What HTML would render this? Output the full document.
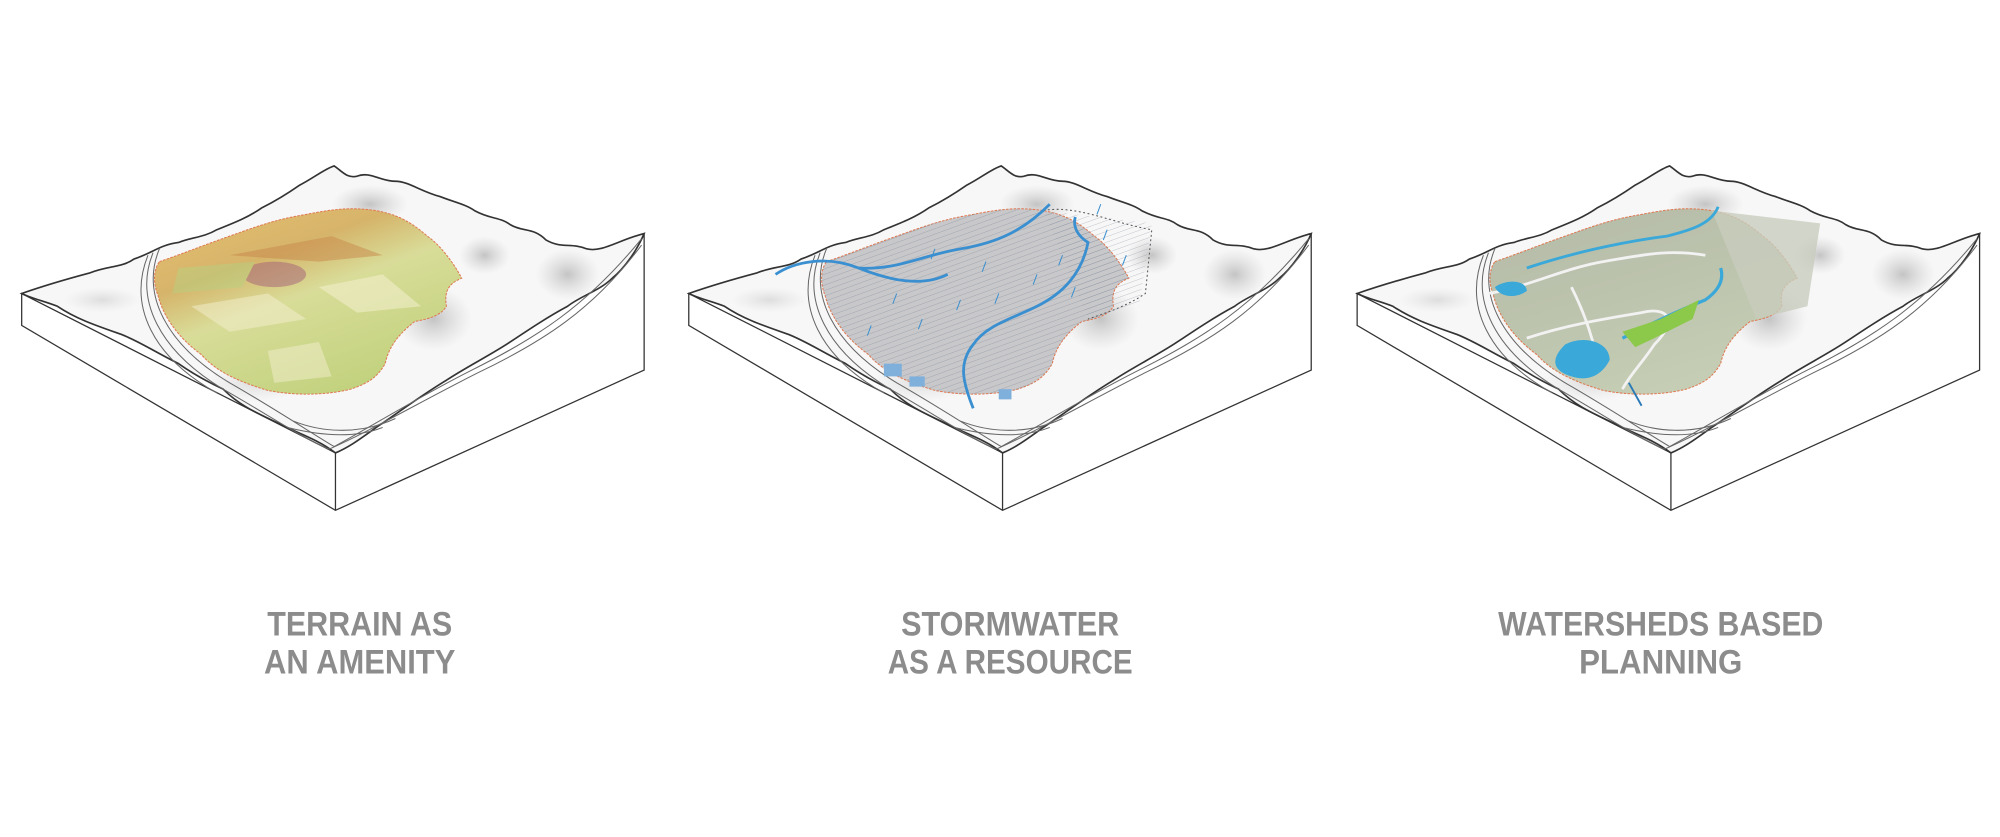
<!DOCTYPE html>
<html><head><meta charset="utf-8"><style>
html,body{margin:0;padding:0;background:#fff;width:2000px;height:837px;overflow:hidden}
svg{display:block}
.t{font-family:"Liberation Sans",sans-serif;font-weight:bold;fill:#8c8c8c;font-size:27px;text-anchor:middle}
</style></head><body>
<svg width="2000" height="837" viewBox="0 0 1568 656" xmlns="http://www.w3.org/2000/svg">
<defs>
<radialGradient id="sh" cx="50%" cy="50%" r="50%"><stop offset="0" stop-color="#9a9a9a" stop-opacity=".55"/><stop offset="1" stop-color="#bbb" stop-opacity="0"/></radialGradient>
<linearGradient id="terr" x1="0" y1="0" x2="0.6" y2="1"><stop offset="0" stop-color="#e8c070"/><stop offset=".35" stop-color="#d6b46a"/><stop offset=".55" stop-color="#d8dc98"/><stop offset="1" stop-color="#c2d27e"/></linearGradient>
<linearGradient id="sage" x1="0" y1="0" x2="0.5" y2="1"><stop offset="0" stop-color="#b3b9a6"/><stop offset="1" stop-color="#c5cdb4"/></linearGradient>
<pattern id="hatch" width="4" height="4" patternUnits="userSpaceOnUse" patternTransform="rotate(70)"><line x1="0" y1="0" x2="0" y2="4" stroke="#7f8a9a" stroke-width=".6"/></pattern>
<g id="block">
<path d="M17,230 L17,255 L263,400 L505,290 L505,183 L263,355 Z" fill="#fff" stroke="#333" stroke-width="1"/>
<line x1="263" y1="355" x2="263" y2="400" stroke="#333" stroke-width="1"/>
<path d="M17,230 C40,222 55,218 70,214 C85,208 95,210 105,203 C120,198 125,192 140,190 C150,186 160,186 170,180 C185,174 195,170 205,163 C215,158 225,152 235,145 C245,140 255,132 262,130 C268,134 272,140 280,138 C290,134 298,142 310,142 C320,142 330,150 345,154 C355,158 365,160 372,165 C385,172 392,170 400,176 C410,182 418,178 428,188 C440,195 448,190 460,195 C472,198 485,188 505,183 C500,195 490,210 480,218 C470,228 455,232 445,240 C430,248 415,258 400,268 C385,278 365,288 350,298 C330,310 310,325 295,335 C285,342 275,350 263,355 C250,345 235,340 225,335 C205,325 190,320 175,305 C160,298 150,292 140,285 C120,275 110,268 95,262 C75,255 60,250 45,240 C35,236 25,234 17,230 Z" fill="#f7f7f7" stroke="#333" stroke-width="1.3"/>
<ellipse cx="340" cy="250" rx="30" ry="25" fill="url(#sh)"/>
<ellipse cx="445" cy="215" rx="25" ry="20" fill="url(#sh)"/>
<ellipse cx="380" cy="200" rx="20" ry="15" fill="url(#sh)"/>
<ellipse cx="290" cy="160" rx="30" ry="15" fill="url(#sh)"/>
<ellipse cx="80" cy="235" rx="30" ry="10" fill="url(#sh)" opacity=".5"/>
<ellipse cx="200" cy="300" rx="40" ry="15" fill="url(#sh)" opacity=".5"/>
<g fill="none" stroke="#666" stroke-width=".8">
<path d="M125,195 C110,230 130,270 180,300 C215,320 245,340 262,350 C290,335 330,310 370,290 C420,265 460,240 503,187"/>
<path d="M120,198 C105,235 125,275 175,305 C210,325 240,345 258,352 C290,338 335,312 375,292 C425,268 465,243 503,192"/>
<path d="M116,200 C100,240 120,280 170,308 M225,335 C245,340 275,345 300,335"/>
<path d="M230,330 C250,338 280,342 310,328"/>
</g>
</g>
<path id="zone" d="M125,205 C140,200 160,192 180,185 C200,178 215,172 240,168 C260,164 275,162 295,165 C310,168 320,172 335,185 C345,192 355,205 362,218 C352,222 348,228 350,240 C345,248 335,250 325,252 C315,260 305,270 302,285 C296,295 290,300 275,305 C255,310 230,310 210,306 C190,300 170,292 158,278 C140,265 128,248 124,232 C120,222 120,212 125,205 Z"/>
</defs>

<!-- Block 1 -->
<use href="#block"/>
<use href="#zone" fill="url(#terr)" stroke="#e07850" stroke-width=".8" stroke-dasharray="2 1"/>
<g opacity=".5">
<ellipse cx="215" cy="215" rx="25" ry="10" fill="#a4607a"/>
<path d="M180,200 L260,185 L300,200 L250,205 Z" fill="#c8884a"/>
<path d="M150,240 L210,230 L240,250 L180,260 Z" fill="#f4f0d0"/>
<path d="M250,225 L300,215 L330,240 L280,245 Z" fill="#f8f3d6"/>
<path d="M210,275 L250,268 L260,295 L215,300 Z" fill="#f3efce"/>
<path d="M140,210 L200,205 L190,225 L135,230 Z" fill="#b8d080"/>
</g>

<!-- Block 2 -->
<g transform="translate(523,0)">
<use href="#block"/>
<use href="#zone" fill="#c8c8ca" stroke="#e07850" stroke-width=".8" stroke-dasharray="2 1"/>
<use href="#zone" fill="url(#hatch)" opacity=".7"/>
<path d="M295,165 C320,160 350,175 380,180 L375,230 C360,240 345,245 330,250" fill="none" stroke="#555" stroke-width=".8" stroke-dasharray="1.5 2"/>
<path d="M295,165 L380,175 L370,240 L330,250 Z" fill="url(#hatch)" opacity=".6"/>
<g fill="none" stroke="#3a8fd0" stroke-width="2.2">
<path d="M85,215 C100,205 125,200 150,210 C180,212 200,200 230,195 C260,190 280,180 300,160"/>
<path d="M240,320 C232,300 228,285 240,270 C250,255 270,250 290,240 C310,230 325,215 330,190 C322,185 318,178 320,170"/>
<path d="M150,210 C175,220 200,225 220,215"/>
</g>
<g fill="#7fb0dc"><rect x="170" y="285" width="14" height="10"/><rect x="190" y="295" width="12" height="8"/><rect x="260" y="305" width="10" height="8"/></g>
<g stroke="#3a8fd0" stroke-width=".8"><path d="M180,230 l-3,8 M200,250 l-3,8 M230,235 l-3,8 M260,230 l-3,8 M290,215 l-3,8 M310,200 l-3,8 M320,225 l-3,8 M210,195 l-3,8 M250,205 l-3,8 M160,255 l-3,8 M345,180 l-3,8 M360,200 l-3,8 M340,160 l-3,8"/></g>
</g>

<!-- Block 3 -->
<g transform="translate(1047,0)">
<use href="#block"/>
<use href="#zone" fill="url(#sage)" stroke="#e07850" stroke-width=".8" stroke-dasharray="2 1"/>
<path d="M295,165 L380,175 L370,240 L330,250 Z" fill="#c8ccbd" opacity=".8"/>
<g fill="none" stroke="#f2f2f2" stroke-width="2.2"><path d="M120,230 C150,225 180,210 210,205 C240,200 260,195 290,200"/><path d="M150,265 C180,255 210,250 240,245 C260,240 270,250 250,270 C240,285 230,295 225,305"/><path d="M185,225 C195,245 200,260 205,280"/></g>
<path d="M180,270 C195,262 215,268 215,282 C210,292 200,300 185,295 C175,292 165,285 180,270 Z" fill="#3aa8d8"/>
<path d="M125,225 C135,218 150,220 150,228 C140,235 128,232 125,225 Z" fill="#3aa8d8"/>
<path d="M150,210 C180,200 220,190 260,185 C280,180 295,175 300,162" fill="none" stroke="#3aa8d8" stroke-width="2.2"/>
<path d="M225,265 C245,255 265,245 290,235 C300,228 305,220 302,210" fill="none" stroke="#3aa8d8" stroke-width="2.5"/>
<path d="M225,260 L255,250 L285,235 L280,250 L250,265 L235,272 Z" fill="#8cc84a"/>
<path d="M230,300 L240,318" stroke="#2a7ab8" stroke-width="1.5"/>
</g>

<text class="t" x="282" y="498" textLength="145" lengthAdjust="spacingAndGlyphs">TERRAIN AS</text>
<text class="t" x="282" y="528" textLength="150" lengthAdjust="spacingAndGlyphs">AN AMENITY</text>
<text class="t" x="792" y="498" textLength="171" lengthAdjust="spacingAndGlyphs">STORMWATER</text>
<text class="t" x="792" y="528" textLength="192" lengthAdjust="spacingAndGlyphs">AS A RESOURCE</text>
<text class="t" x="1302" y="498" textLength="255" lengthAdjust="spacingAndGlyphs">WATERSHEDS BASED</text>
<text class="t" x="1302" y="528" textLength="128" lengthAdjust="spacingAndGlyphs">PLANNING</text>
</svg>
</body></html>
